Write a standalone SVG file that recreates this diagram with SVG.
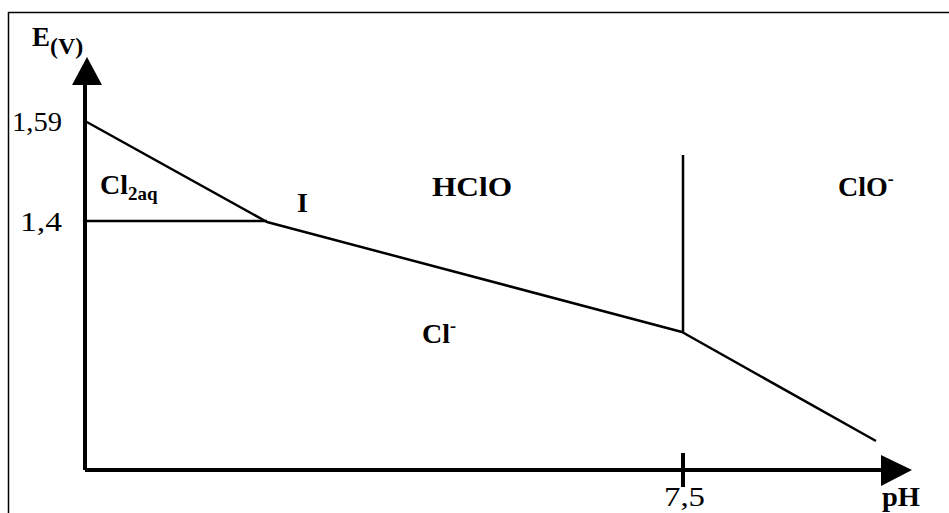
<svg xmlns="http://www.w3.org/2000/svg" width="949" height="513" viewBox="0 0 949 513">
<style>
.t{font-family:"Liberation Serif","Times New Roman",serif;fill:#000}
.b{font-weight:bold}
.ax{stroke:#000;stroke-width:4;fill:none}
.ln{stroke:#000;stroke-width:2.5;fill:none;stroke-linejoin:round}
</style>
<rect width="949" height="513" fill="#fff"/>
<g id="frame"><path d="M8.5,513 V12.5 H949" stroke="#000" stroke-width="1.5" fill="none"/></g>
<g id="axes">
<path class="ax" d="M85,470 V82 M85,470 H884"/>
<polygon points="87,57 72,85 102,85"/>
<polygon points="912,470 881,455 881,486"/>
<path class="ax" d="M683,453 V487" stroke-width="3"/>
</g>
<g id="connectors">
<path class="ln" d="M85,121 L267,222 L682,332 L876,441"/>
<path class="ln" d="M85,221 H267"/>
<path class="ln" d="M683,155 V332"/>
</g>
<g id="labels">
<text class="t b" x="32" y="46" font-size="27">E<tspan font-size="24" dy="8">(V)</tspan></text>
<text class="t" x="12" y="131" font-size="28" textLength="50" lengthAdjust="spacingAndGlyphs">1,59</text>
<text class="t" x="20" y="231" font-size="28" textLength="42" lengthAdjust="spacingAndGlyphs">1,4</text>
<text class="t b" x="100" y="194" font-size="28">Cl<tspan font-size="19" dy="6">2aq</tspan></text>
<text class="t b" x="297" y="212" font-size="28">I</text>
<text class="t b" x="432" y="196" font-size="28" textLength="80" lengthAdjust="spacingAndGlyphs">HClO</text>
<text class="t b" x="838" y="196" font-size="28">ClO<tspan font-size="18" dy="-11">-</tspan></text>
<text class="t b" x="422" y="343" font-size="28">Cl<tspan font-size="18" dy="-11">-</tspan></text>
<text class="t" x="664" y="506" font-size="27" textLength="41" lengthAdjust="spacingAndGlyphs">7,5</text>
<text class="t b" x="882" y="506" font-size="27" textLength="38" lengthAdjust="spacingAndGlyphs">pH</text>
</g>
</svg>
